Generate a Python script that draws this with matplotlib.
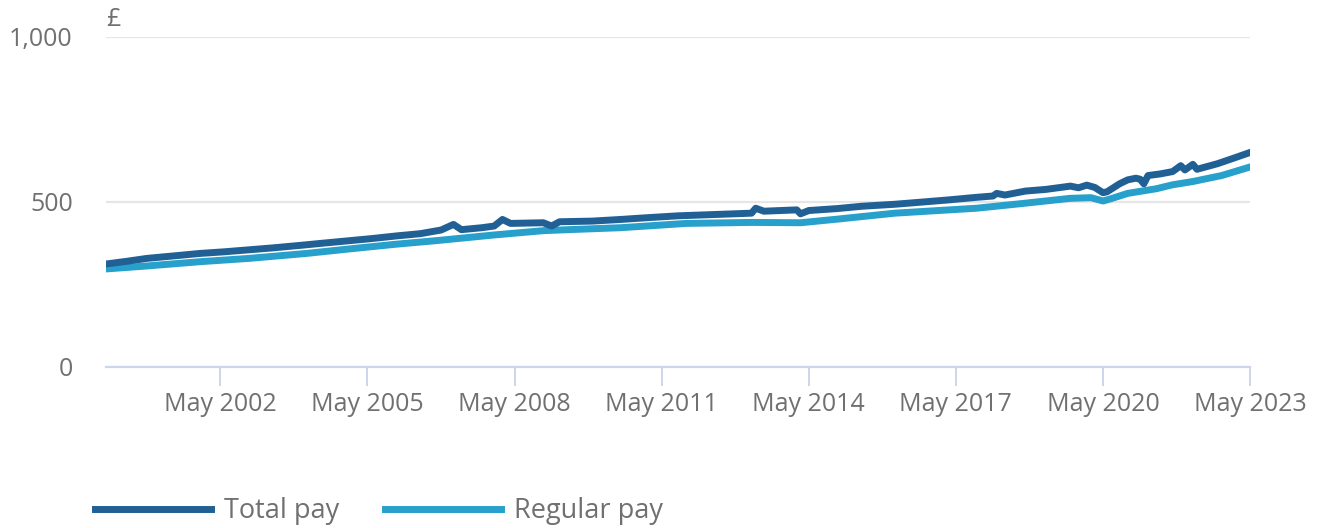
import matplotlib
matplotlib.use('Agg')
import matplotlib.pyplot as plt
import matplotlib.dates as mdates
import pandas as pd

# average weekly earnings, £ per week
total_dates = ['2000-01', '2000-06', '2000-11', '2001-06', '2001-12', '2002-06', '2002-12',
               '2003-06', '2004-01', '2004-06', '2004-12', '2005-06', '2005-12', '2006-06',
               '2006-11', '2007-02', '2007-04', '2007-09', '2007-12', '2008-02', '2008-04',
               '2008-12', '2009-02', '2009-04', '2009-12', '2010-07', '2011-01', '2011-09',
               '2012-06', '2013-03', '2013-04', '2013-06', '2014-02', '2014-03', '2014-05',
               '2014-12', '2015-06', '2016-02', '2016-09', '2017-03', '2017-10', '2018-02',
               '2018-03', '2018-05', '2018-10', '2019-03', '2019-09', '2019-11', '2020-01',
               '2020-03', '2020-05', '2020-06', '2020-09', '2020-11', '2021-01', '2021-02',
               '2021-03', '2021-04', '2021-07', '2021-10', '2021-12', '2022-01', '2022-03',
               '2022-04', '2022-09', '2023-01', '2023-05']
total_pay = [312, 320, 329, 337, 344, 349, 355,
             361, 369, 375, 382, 389, 397, 404,
             415, 432, 416, 422, 427, 447, 435,
             437, 427, 440, 442, 447, 452, 458,
             462, 466, 481, 472, 476, 464, 474,
             480, 487, 493, 500, 506, 514, 518,
             526, 521, 533, 538, 548, 543, 551,
             544, 528, 531, 555, 567, 572, 569,
             555, 580, 585, 592, 610, 597, 614,
             599, 616, 633, 650]

regular_dates = ['2000-01', '2000-11', '2001-12', '2002-12', '2004-02', '2004-12', '2005-12',
                 '2006-10', '2007-12', '2008-12', '2009-06', '2010-07', '2011-11', '2013-03',
                 '2014-03', '2014-12', '2016-02', '2016-10', '2017-10', '2018-09', '2019-09',
                 '2020-02', '2020-05', '2020-07', '2020-11', '2021-06', '2021-10', '2022-03',
                 '2022-10', '2023-05']
regular_pay = [297, 306, 319, 329, 344, 357, 372,
               383, 400, 413, 416, 422, 435, 438,
               437, 448, 466, 472, 481, 495, 511,
               513, 503, 510, 526, 540, 552, 562,
               580, 606]

tick_years = [2002, 2005, 2008, 2011, 2014, 2017, 2020, 2023]
y_ticks = [0, 500, 1000]

TEXT = '#707071'
plt.rcParams['font.family'] = ['Open Sans', 'DejaVu Sans']

fig = plt.figure(figsize=(13.2, 5.28), dpi=100)
ax = fig.add_axes([0.0803, 0.305, 0.8667, 0.625])

ax.plot(pd.to_datetime(total_dates), total_pay, color='#206095', lw=5,
        solid_joinstyle='round', label='Total pay', zorder=3)
ax.plot(pd.to_datetime(regular_dates), regular_pay, color='#27a0cc', lw=5,
        solid_joinstyle='round', label='Regular pay', zorder=2)

ax.set_xlim(pd.Timestamp('2000-01-01'), pd.Timestamp('2023-05-01'))
ax.set_ylim(0, 1000)

ax.set_yticks(y_ticks)
ax.set_yticklabels(['{:,}'.format(v) for v in y_ticks])
ax.yaxis.grid(True, color='#e6e6e6', lw=1.6)
ax.set_axisbelow(True)
ax.tick_params(axis='y', length=0, pad=24, labelsize=18, labelcolor=TEXT)

ax.set_xticks([pd.Timestamp('{}-05-01'.format(y)) for y in tick_years])
ax.xaxis.set_major_formatter(mdates.DateFormatter('%b %Y'))
ax.tick_params(axis='x', length=14, width=1.4, color='#ccd6eb', pad=4,
               labelsize=18, labelcolor=TEXT)

for s in ['top', 'right', 'left']:
    ax.spines[s].set_visible(False)
ax.spines['bottom'].set_color('#ccd6eb')
ax.spines['bottom'].set_linewidth(1.6)

ax.text(0.0, 1.015, '£', transform=ax.transAxes, fontsize=18, color=TEXT,
        ha='left', va='bottom')

fig.legend(loc='center left', bbox_to_anchor=(0.072, 0.032), ncol=2, frameon=False,
           fontsize=19.5, labelcolor=TEXT, handlelength=4.3, handletextpad=0.45,
           columnspacing=1.7, borderpad=0, borderaxespad=0)

fig.savefig('out.png', dpi=100)
